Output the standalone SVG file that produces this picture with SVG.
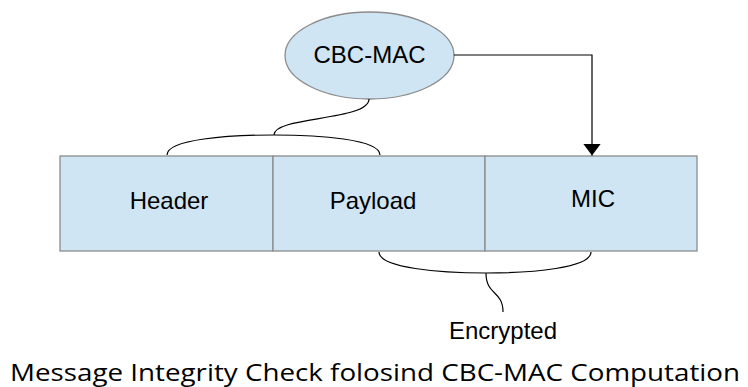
<svg xmlns="http://www.w3.org/2000/svg" width="748" height="387" viewBox="0 0 748 387">
  <defs>
    <style>
      .box { fill: #cfe5f3; stroke: #8c8c8c; stroke-width: 1.3; }
      .lbl { font-family: "Liberation Sans", Arial, sans-serif; font-size: 24px; fill: #000; text-anchor: middle; }
      .wire { fill: none; stroke: #000; stroke-width: 1.2; }
      .cap { font-family: "Open Sans", "Noto Sans", sans-serif; font-size: 23.5px; fill: #000; }
    </style>
    <marker id="arrow" viewBox="0 0 12 18" refX="12" refY="9" markerWidth="12" markerHeight="18" markerUnits="userSpaceOnUse" orient="auto">
      <path d="M0,0 L12,9 L0,18 Z" fill="#000"/>
    </marker>
  </defs>
  <rect width="748" height="387" fill="#fff"/>

  <!-- message frame fields -->
  <g id="header">
    <rect class="box" x="60" y="156" width="213" height="95"/>
    <text class="lbl" x="169" y="209">Header</text>
  </g>
  <g id="payload">
    <rect class="box" x="273" y="156" width="212" height="95"/>
    <text class="lbl" x="373" y="209">Payload</text>
  </g>
  <g id="mic">
    <rect class="box" x="485" y="156" width="212" height="95"/>
    <text class="lbl" x="593" y="207">MIC</text>
  </g>

  <!-- MAC computation block -->
  <g id="cbc-mac">
    <ellipse class="box" cx="369.5" cy="55.5" rx="84.5" ry="43.5"/>
    <text class="lbl" x="369.5" y="63">CBC-MAC</text>
  </g>

  <g id="connectors">
    <!-- brace over Header + Payload, linked to CBC-MAC -->
    <path class="wire" d="M167,155 C167,139 230,135 274,135 C318,135 380,139 380,155"/>
    <path class="wire" d="M274,135 C274,116 369,121 369,99"/>
    <!-- CBC-MAC output into MIC -->
    <path class="wire" d="M454,55 L592,55 L592,155.5" marker-end="url(#arrow)"/>
    <!-- brace under Payload + MIC -->
    <path class="wire" d="M379,252 C379,268 440,273 486,273 C532,273 591,268 591,252"/>
    <path class="wire" d="M486,273 C486,296 503,290 503,312"/>
  </g>

  <g id="encrypted">
    <text class="lbl" x="503" y="339">Encrypted</text>
  </g>

  <text class="cap" x="10" y="381" textLength="730" lengthAdjust="spacingAndGlyphs">Message Integrity Check folosind CBC-MAC Computation</text>
</svg>
